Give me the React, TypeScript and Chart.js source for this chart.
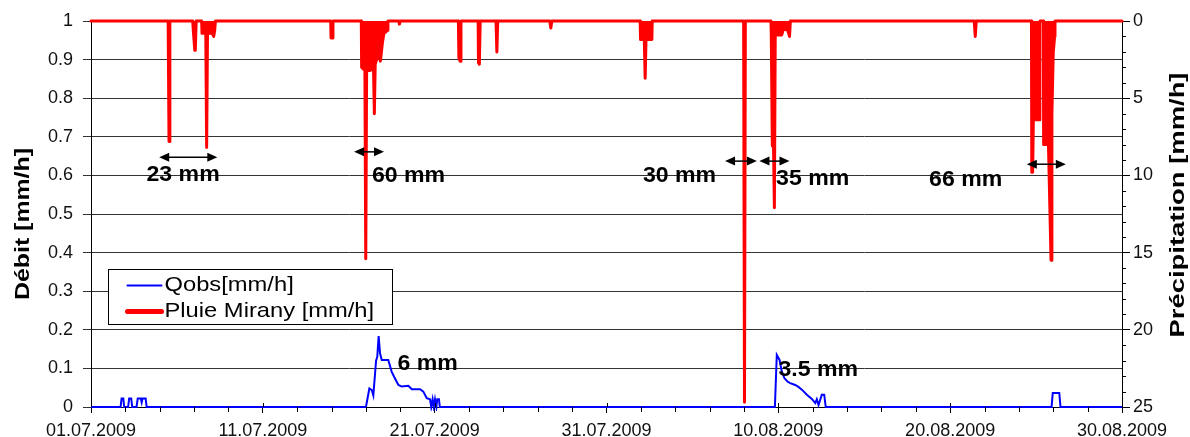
import React, { useEffect, useRef } from 'react';
import { Chart, registerables } from 'chart.js';

Chart.register(...registerables);

const FONT = "'Liberation Sans', Arial, Helvetica, sans-serif";

// x axis: days since 01.07.2009
const xTickLabels = ['01.07.2009', '11.07.2009', '21.07.2009', '31.07.2009', '10.08.2009', '20.08.2009', '30.08.2009'];

// Qobs [mm/h] (left axis)
const qobsDay = [
  0, 1.72, 1.78, 1.88, 1.93, 2.16, 2.22, 2.34, 2.4, 2.65, 2.72, 2.9, 2.95, 3.0, 3.18, 3.24,
  16.0, 16.2, 16.34, 16.43, 16.59, 16.66, 16.74, 16.82, 16.92, 17.3, 17.5, 17.69, 17.89, 18.08, 18.47, 18.67,
  19.15, 19.34, 19.54, 19.73, 19.8, 19.88, 19.95, 20.02, 20.1, 20.15, 20.25, 20.3,
  39.8, 39.91, 40.07, 40.2, 40.35, 40.53, 40.69, 40.98, 41.17, 41.37, 41.66, 41.95, 42.15, 42.24, 42.34,
  42.53, 42.67, 42.76,
  55.9, 55.97, 56.35, 56.42, 60,
];
const qobsValue = [
  0, 0, 0.022, 0.022, 0, 0, 0.022, 0.022, 0, 0, 0.022, 0.022, 0.012, 0.022, 0.022, 0,
  0, 0.048, 0.044, 0.03, 0.12, 0.13, 0.184, 0.139, 0.122, 0.122, 0.091, 0.074, 0.057, 0.053, 0.055, 0.046,
  0.046, 0.04, 0.023, 0.02, 0, 0.02, 0, 0.02, 0, 0.02, 0.02, 0,
  0, 0.135, 0.122, 0.092, 0.075, 0.066, 0.062, 0.057, 0.052, 0.045, 0.032, 0.021, 0.01, 0.02, 0.005,
  0.032, 0.032, 0,
  0, 0.036, 0.036, 0, 0,
];

// Pluie Mirany [mm/h] (right axis, reversed)
const rainDay = [
  0,
  4.49, 4.54, 4.59,
  5.92, 5.96, 6.04, 6.07, 6.12,
  6.44, 6.46, 6.68, 6.73, 6.78, 7.05, 7.14, 7.2, 7.24,
  13.95, 13.97, 14.05, 14.08,
  15.73, 15.75, 15.94, 15.99, 16.04, 16.25, 16.44, 16.49, 16.54, 16.62, 16.72, 16.84, 16.96, 17.05, 17.26, 17.28,
  17.91, 17.95, 17.99,
  21.38, 21.41, 21.48, 21.53,
  22.53, 22.55, 22.6, 22.65,
  23.57, 23.62, 23.67,
  26.7, 26.76, 26.82,
  31.96, 31.98, 32.2, 32.25, 32.3, 32.64, 32.66,
  37.98, 38.03, 38.08,
  39.57, 39.59, 39.65, 39.72, 39.77, 39.82, 40.2, 40.3, 40.55, 40.65, 40.7,
  51.4, 51.46, 51.52,
  54.73, 54.75, 54.8, 54.84, 55.2, 55.22, 55.42, 55.44, 55.72, 55.8, 55.87, 55.92, 56.0, 56.08, 56.1,
  60,
];
const rainValue = [
  0,
  0, 7.8, 0,
  0, 0.7, 1.9, 1.9, 0,
  0, 0.8, 0.8, 8.2, 0.8, 0.8, 1.0, 0.6, 0,
  0, 1.1, 1.1, 0,
  0, 3.0, 3.2, 15.4, 3.2, 3.2, 3.0, 6.0, 2.8, 2.5, 2.0, 2.6, 1.4, 0.8, 0.6, 0,
  0, 0.2, 0,
  0, 2.4, 2.6, 0,
  0, 2.7, 2.8, 0,
  0, 2.0, 0,
  0, 0.45, 0,
  0, 1.2, 1.2, 3.7, 1.2, 1.2, 0,
  0, 24.7, 0,
  0, 0.9, 8.1, 8.1, 12.1, 0.9, 0.9, 0.5, 0.6, 1.0, 0,
  0, 1.0, 0,
  0, 9.8, 9.8, 6.4, 6.4, 0, 0, 8.0, 8.0, 12.0, 15.5, 6.0, 2.0, 1.0, 0,
  0,
];

// annotations (x in days, level on the left axis)
const noteTexts = ['23 mm', '60 mm', '30 mm', '35 mm', '66 mm', '6 mm', '3.5 mm'];
const noteDay = [5.36, 18.48, 34.25, 42.0, 50.9, 19.59, 42.32];
const noteLevel = [0.6, 0.598, 0.598, 0.59, 0.588, 0.112, 0.095];

const arrowFromDay = [3.97, 15.31, 36.9, 38.9, 54.46];
const arrowToDay = [7.35, 17.05, 38.75, 40.65, 56.73];
const arrowLevel = [0.647, 0.661, 0.637, 0.637, 0.629];

function toPoints(xs: number[], ys: number[]) {
  return xs.map((x, i) => ({ x, y: ys[i] }));
}

function stretchedText(ctx: CanvasRenderingContext2D, text: string, x: number, y: number, targetWidth: number | null, sx: number, rotate: boolean) {
  const w = ctx.measureText(text).width;
  const k = targetWidth ? targetWidth / w : sx;
  ctx.save();
  ctx.translate(x, y);
  if (rotate) ctx.rotate(-Math.PI / 2);
  ctx.scale(k, 1);
  ctx.fillText(text, 0, 0);
  ctx.restore();
}

const overlayPlugin = {
  id: 'overlay',
  afterDraw(chart: any) {
    const { ctx, chartArea } = chart;
    const xs = chart.scales.x;
    const ys = chart.scales.y;
    const y2 = chart.scales.y2;
    ctx.save();

    // minor ticks on x axis
    ctx.strokeStyle = '#000';
    ctx.lineWidth = 1;
    for (let d = xs.min; d <= xs.max; d += 2) {
      const px = Math.round(xs.getPixelForValue(d)) + 0.5;
      ctx.beginPath();
      if (d % 10 === 0) {
        ctx.moveTo(px, chartArea.bottom - 4);
        ctx.lineTo(px, chartArea.bottom);
      } else {
        ctx.moveTo(px, chartArea.bottom);
        ctx.lineTo(px, chartArea.bottom + 5);
      }
      ctx.stroke();
    }
    // minor ticks on right axis
    for (let v = y2.min; v <= y2.max; v += 1) {
      if (v % 5 === 0) continue;
      const py = Math.round(y2.getPixelForValue(v)) + 0.5;
      ctx.beginPath();
      ctx.moveTo(chartArea.right, py);
      ctx.lineTo(chartArea.right + 4, py);
      ctx.stroke();
    }

    // arrows
    ctx.fillStyle = '#000';
    ctx.lineWidth = 1.5;
    for (let i = 0; i < arrowLevel.length; i++) {
      const xa = xs.getPixelForValue(arrowFromDay[i]);
      const xb = xs.getPixelForValue(arrowToDay[i]);
      const py = ys.getPixelForValue(arrowLevel[i]);
      ctx.beginPath();
      ctx.moveTo(xa + 6, py);
      ctx.lineTo(xb - 6, py);
      ctx.stroke();
      ctx.beginPath();
      ctx.moveTo(xa, py);
      ctx.lineTo(xa + 10, py - 4.5);
      ctx.lineTo(xa + 10, py + 4.5);
      ctx.closePath();
      ctx.fill();
      ctx.beginPath();
      ctx.moveTo(xb, py);
      ctx.lineTo(xb - 10, py - 4.5);
      ctx.lineTo(xb - 10, py + 4.5);
      ctx.closePath();
      ctx.fill();
    }

    // annotation texts
    ctx.font = `bold 22px ${FONT}`;
    ctx.textAlign = 'center';
    ctx.textBaseline = 'middle';
    for (let i = 0; i < noteTexts.length; i++) {
      stretchedText(ctx, noteTexts[i], xs.getPixelForValue(noteDay[i]), ys.getPixelForValue(noteLevel[i]), null, 1.05, false);
    }

    // legend
    const lx = chartArea.left + 17.5;
    const ly = chartArea.top + 248.5;
    ctx.fillStyle = '#fff';
    ctx.fillRect(lx, ly, 284, 55);
    ctx.strokeStyle = '#000';
    ctx.lineWidth = 1;
    ctx.strokeRect(lx, ly, 284, 55);
    const ds = chart.data.datasets;
    const rows = [ly + 16, ly + 42];
    ctx.font = `21px ${FONT}`;
    ctx.textAlign = 'left';
    ctx.textBaseline = 'middle';
    for (let i = 0; i < ds.length; i++) {
      ctx.strokeStyle = ds[i].borderColor;
      ctx.lineWidth = i === 0 ? 2 : 5;
      ctx.lineCap = 'round';
      ctx.beginPath();
      ctx.moveTo(lx + 19, rows[i]);
      ctx.lineTo(lx + 53, rows[i]);
      ctx.stroke();
      ctx.fillStyle = '#000';
      stretchedText(ctx, ds[i].label, lx + 56, rows[i], null, 1.13, false);
    }

    // axis titles
    ctx.font = `bold 20px ${FONT}`;
    ctx.fillStyle = '#000';
    ctx.textAlign = 'center';
    ctx.textBaseline = 'middle';
    stretchedText(ctx, 'Débit [mm/h]', 23, 224, 152, 1, true);
    stretchedText(ctx, 'Précipitation [mm/h]', 1178, 205, 265, 1, true);

    ctx.restore();
  },
};

export default function App() {
  const ref = useRef<HTMLCanvasElement>(null);

  useEffect(() => {
    document.body.style.margin = '0';
    const canvas = ref.current;
    if (!canvas) return;
    const chart = new Chart(canvas, {
      type: 'line',
      data: {
        datasets: [
          {
            label: 'Qobs[mm/h]',
            data: toPoints(qobsDay, qobsValue),
            yAxisID: 'y',
            borderColor: '#0000ff',
            borderWidth: 2,
            pointRadius: 0,
            tension: 0,
            fill: false,
            clip: 4,
          },
          {
            label: 'Pluie Mirany [mm/h]',
            data: toPoints(rainDay, rainValue),
            yAxisID: 'y2',
            borderColor: '#ff0000',
            backgroundColor: '#ff0000',
            borderWidth: 3,
            borderJoinStyle: 'round',
            borderCapStyle: 'round',
            pointRadius: 0,
            tension: 0,
            fill: 'origin',
            clip: 4,
          },
        ],
      },
      options: {
        responsive: false,
        animation: false,
        devicePixelRatio: 1,
        events: [],
        layout: { padding: { top: 21, left: 0, right: 0, bottom: 0 } },
        plugins: { legend: { display: false }, tooltip: { enabled: false } },
        scales: {
          x: {
            type: 'linear',
            min: 0,
            max: 60,
            position: 'bottom',
            afterFit: (s: any) => { s.height = 30; },
            ticks: {
              stepSize: 10,
              autoSkip: false,
              maxRotation: 0,
              minRotation: 0,
              padding: 7,
              color: '#111',
              font: { family: FONT, size: 18 },
              callback: (_v: any, i: number) => xTickLabels[i] ?? '',
            },
            grid: { drawOnChartArea: false, drawTicks: true, tickLength: 6, color: '#000' },
            border: { display: true, color: '#000', width: 1 },
          },
          y: {
            type: 'linear',
            position: 'left',
            min: 0,
            max: 1,
            afterFit: (s: any) => { s.width = 91; },
            ticks: {
              stepSize: 0.1,
              padding: 10,
              color: '#111',
              font: { family: FONT, size: 18 },
              callback: (v: any) => String(Number(Number(v).toFixed(1))),
            },
            grid: { color: '#333', lineWidth: 1, tickLength: 8 },
            border: { display: true, color: '#000', width: 1 },
          },
          y2: {
            type: 'linear',
            position: 'right',
            reverse: true,
            min: 0,
            max: 25,
            afterFit: (s: any) => { s.width = 68; },
            ticks: { stepSize: 5, padding: 3, color: '#111', font: { family: FONT, size: 18 } },
            grid: { drawOnChartArea: false, tickLength: 8, color: '#000' },
            border: { display: true, color: '#000', width: 1 },
          },
        },
      },
      plugins: [overlayPlugin],
    } as any);
    return () => chart.destroy();
  }, []);

  return (
    <div style={{ width: 1190, height: 437 }}>
      <canvas ref={ref} width={1190} height={437} style={{ display: 'block' }} />
    </div>
  );
}
